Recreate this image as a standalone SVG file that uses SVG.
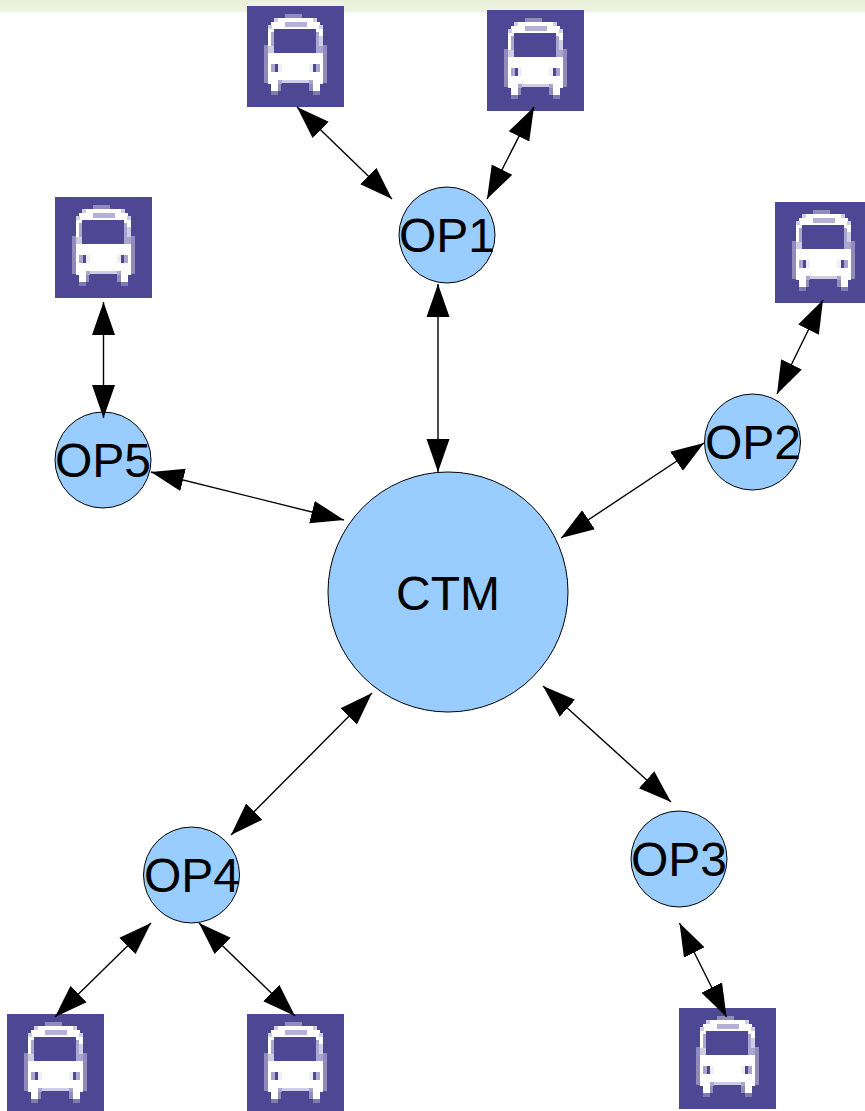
<svg xmlns="http://www.w3.org/2000/svg" width="865" height="1111" viewBox="0 0 865 1111">
<style>
.n{fill:#99ccff;stroke:#000;stroke-width:1}
.t{font-family:"Liberation Sans",Arial,sans-serif;font-size:48px;fill:#000;text-anchor:middle}
.c{stroke:#000;stroke-width:1.4;fill:none;marker-start:url(#a);marker-end:url(#a)}
</style>
<defs>
<linearGradient id="g" x1="0" y1="0" x2="0" y2="1"><stop offset="0" stop-color="#eaf1da"/><stop offset="0.75" stop-color="#eef3e0"/><stop offset="1" stop-color="#ffffff"/></linearGradient>
<marker id="a" markerUnits="userSpaceOnUse" markerWidth="36" markerHeight="26" refX="33" refY="13" orient="auto-start-reverse"><path d="M0 1.5L33 13L0 24.5Z" fill="#000"/></marker>
<symbol id="bus" width="97" height="101" viewBox="0 0 97 101">
<rect width="97" height="101" fill="#4d4794"/>
<g shape-rendering="crispEdges">
<rect x="38" y="8" width="17" height="4" fill="#8f8bbd"/>
<rect x="27" y="12" width="4" height="4" fill="#cfcde3"/>
<rect x="66" y="12" width="4" height="4" fill="#cfcde3"/>
<rect x="31" y="12" width="35" height="4" fill="#fff"/>
<rect x="17" y="39" width="4" height="38" fill="#8f8bbd"/>
<rect x="76" y="39" width="4" height="38" fill="#8f8bbd"/>
<rect x="24" y="16" width="49" height="4" fill="#fff"/>
<rect x="21" y="20" width="55" height="54" fill="#fff"/>
<rect x="21" y="19" width="4" height="4" fill="#cfcde3"/>
<rect x="72" y="19" width="4" height="4" fill="#cfcde3"/>
<rect x="38" y="16" width="22" height="5" fill="#b4b0d6"/>
<rect x="27" y="23" width="42" height="24" fill="#4d4794"/>
<rect x="24" y="26" width="3" height="14" fill="#aaa6d0"/>
<rect x="69" y="26" width="3" height="14" fill="#aaa6d0"/>
<rect x="72" y="30" width="4" height="10" fill="#cfcde3"/>
<rect x="21" y="40" width="6" height="7" fill="#cfcde3"/>
<rect x="69" y="40" width="7" height="7" fill="#aaa6d0"/>
<rect x="24" y="58" width="4" height="8" fill="#aaa6d0"/>
<rect x="28" y="58" width="3" height="8" fill="#4d4794"/>
<rect x="31" y="58" width="4" height="8" fill="#eeeef6"/>
<rect x="66" y="58" width="3" height="8" fill="#4d4794"/>
<rect x="69" y="58" width="4" height="8" fill="#aaa6d0"/>
<rect x="62" y="58" width="4" height="8" fill="#eeeef6"/>
<rect x="21" y="74" width="10" height="4" fill="#fff"/>
<rect x="66" y="74" width="10" height="4" fill="#fff"/>
<rect x="31" y="74" width="4" height="4" fill="#aaa6d0"/>
<rect x="62" y="74" width="4" height="4" fill="#aaa6d0"/>
<rect x="35" y="74" width="27" height="3" fill="#cfcde3"/>
<rect x="24" y="78" width="7" height="7" fill="#fff"/>
<rect x="66" y="78" width="7" height="7" fill="#fff"/>
<rect x="31" y="78" width="3" height="7" fill="#8f8bbd"/>
<rect x="62" y="78" width="4" height="7" fill="#8f8bbd"/>
<rect x="24" y="85" width="7" height="4" fill="#7f7ab5"/>
<rect x="66" y="85" width="7" height="4" fill="#7f7ab5"/>
</g>
</symbol>
</defs>
<rect id="band" x="0" y="0" width="865" height="14" fill="url(#g)"/>
<g id="bus1"><use href="#bus" x="247" y="6"/></g>
<g id="bus2"><use href="#bus" x="487" y="10"/></g>
<g id="bus3"><use href="#bus" x="55" y="197"/></g>
<g id="bus4"><use href="#bus" x="775" y="202"/></g>
<g id="bus5"><use href="#bus" x="7" y="1014"/></g>
<g id="bus6"><use href="#bus" x="247" y="1014"/></g>
<g id="bus7"><use href="#bus" x="679" y="1008"/></g>
<g id="ctm"><circle class="n" cx="448" cy="592" r="120"/><text class="t" x="448" y="610">CTM</text></g>
<g id="op1"><circle class="n" cx="447" cy="235" r="48"/><text class="t" x="447" y="252">OP1</text></g>
<g id="op2"><circle class="n" cx="752.5" cy="442" r="48"/><text class="t" x="753" y="459">OP2</text></g>
<g id="op3"><circle class="n" cx="679" cy="859" r="48"/><text class="t" x="679" y="876">OP3</text></g>
<g id="op4"><circle class="n" cx="191.5" cy="875" r="48"/><text class="t" x="192" y="892">OP4</text></g>
<g id="op5"><circle class="n" cx="103" cy="460" r="48"/><text class="t" x="103" y="477">OP5</text></g>
<g id="connectors">
<line class="c" x1="297" y1="107" x2="392" y2="199"/>
<line class="c" x1="534" y1="107" x2="487" y2="199"/>
<line class="c" x1="438" y1="284" x2="438" y2="472"/>
<line class="c" x1="103.500" y1="302" x2="103.500" y2="418"/>
<line class="c" x1="151" y1="472" x2="344" y2="520"/>
<line class="c" x1="704" y1="443" x2="561" y2="538"/>
<line class="c" x1="823" y1="300" x2="777" y2="394"/>
<line class="c" x1="372" y1="693" x2="231" y2="835"/>
<line class="c" x1="543" y1="686" x2="671" y2="802"/>
<line class="c" x1="151" y1="923" x2="55" y2="1017"/>
<line class="c" x1="199" y1="923" x2="295" y2="1016"/>
<line class="c" x1="679.500" y1="923" x2="726.500" y2="1017"/>
</g>
</svg>
